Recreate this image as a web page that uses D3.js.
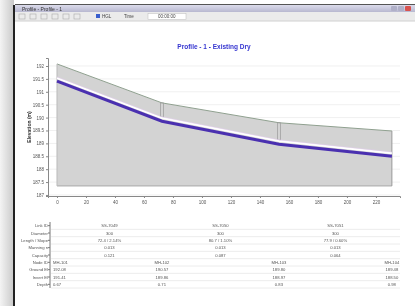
<!DOCTYPE html>
<html>
<head>
<meta charset="utf-8">
<script src="https://cdn.jsdelivr.net/npm/d3@7/dist/d3.min.js"></script>
<style>
  html, body { margin: 0; padding: 0; background: #fff; }
  svg { display: block; font-family: "Liberation Sans", Arial, sans-serif; filter: blur(0.35px); }
</style>
</head>
<body>
<svg width="416" height="306"></svg>
<script>
// profile data (stations in m, elevations in m)
var stations   = [0, 72.4, 153.1, 231.0];
var groundEl   = [192.08, 190.57, 189.80, 189.48];
var invertEl   = [191.41, 189.86, 188.97, 188.50];
var hglEl      = [191.53, 189.98, 189.09, 188.62];
var datumEl    = 187.35;

var nodeIds    = ["MH-101", "MH-102", "MH-103", "MH-104"];
var linkIds    = ["SS-7049", "SS-7050", "SS-7051"];
var linkDiam   = ["300", "300", "300"];
var linkSlope  = ["72.4 / 2.14%", "80.7 / 1.10%", "77.9 / 0.60%"];
var linkN      = ["0.013", "0.013", "0.013"];
var linkCap    = ["0.121", "0.087", "0.064"];

var rowLabels  = ["Link ID", "Diameter", "Length / Slope", "Manning n", "Capacity",
                  "Node ID", "Ground El", "Invert El", "Depth"];

var xTicks = d3.range(0, 221, 20);
var yTicks = d3.range(187, 192.01, 0.5);

var svg = d3.select("svg");

// ---- window chrome ----
var defs = svg.append("defs");
var sh = defs.append("linearGradient").attr("id", "shadow");
sh.append("stop").attr("offset", "0%").attr("stop-color", "#f4f4f4");
sh.append("stop").attr("offset", "100%").attr("stop-color", "#c9c9c9");
var tb = defs.append("linearGradient").attr("id", "titlebar").attr("x2", 0).attr("y2", 1);
tb.append("stop").attr("offset", "0%").attr("stop-color", "#dcdcec");
tb.append("stop").attr("offset", "100%").attr("stop-color", "#b8b8d0");

svg.append("rect").attr("x", 0).attr("y", 0).attr("width", 14).attr("height", 306).attr("fill", "url(#shadow)");
svg.append("rect").attr("x", 13).attr("y", 5).attr("width", 2).attr("height", 301).attr("fill", "#222");
svg.append("rect").attr("x", 15).attr("y", 4).attr("width", 400).attr("height", 1).attr("fill", "#555");
svg.append("rect").attr("x", 15).attr("y", 5).attr("width", 400).attr("height", 7).attr("fill", "url(#titlebar)");
svg.append("text").attr("x", 22).attr("y", 10.5).attr("font-size", 5).attr("fill", "#333").text("Profile - Profile - 1");
// title bar buttons
[["#b0b0c8", 391], ["#b0b0c8", 398], ["#d9534f", 405]].forEach(function (b) {
  svg.append("rect").attr("x", b[1]).attr("y", 6).attr("width", 6).attr("height", 5).attr("rx", 1).attr("fill", b[0]);
});
svg.append("rect").attr("x", 15).attr("y", 12).attr("width", 400).attr("height", 9).attr("fill", "#ebebeb");
svg.append("line").attr("x1", 15).attr("x2", 415).attr("y1", 21).attr("y2", 21).attr("stroke", "#d0d0d0");
// toolbar buttons
d3.range(6).forEach(function (i) {
  svg.append("rect").attr("x", 19 + i * 11).attr("y", 14).attr("width", 6).attr("height", 5)
    .attr("fill", "none").attr("stroke", "#aaa").attr("stroke-width", 0.6);
});
svg.append("rect").attr("x", 96).attr("y", 14).attr("width", 4).attr("height", 4).attr("fill", "#3a5fcd");
svg.append("text").attr("x", 102).attr("y", 18).attr("font-size", 4.5).attr("fill", "#444").text("HGL");
svg.append("text").attr("x", 124).attr("y", 18).attr("font-size", 4.5).attr("fill", "#444").text("Time");
svg.append("rect").attr("x", 148).attr("y", 13.5).attr("width", 38).attr("height", 6).attr("fill", "#fff").attr("stroke", "#bbb").attr("stroke-width", 0.5);
svg.append("text").attr("x", 158).attr("y", 18).attr("font-size", 4.5).attr("fill", "#444").text("00:00:00");

// ---- chart ----
var x = d3.scaleLinear().domain([-6.2, 236.6]).range([48, 400]);
var y = d3.scaleLinear().domain([186.96, 192.31]).range([196, 58]);

svg.append("text").attr("x", 214).attr("y", 49).attr("text-anchor", "middle")
  .attr("font-size", 6.5).attr("font-weight", "bold").attr("fill", "#3535d0")
  .text("Profile - 1 - Existing Dry");

// faint grid
svg.append("g").selectAll("line").data(yTicks).enter().append("line")
  .attr("x1", 48).attr("x2", 400)
  .attr("y1", function (d) { return y(d); }).attr("y2", function (d) { return y(d); })
  .attr("stroke", "#f0f0f0");

var pts = stations.map(function (s, i) { return { s: s, g: groundEl[i], inv: invertEl[i], h: hglEl[i] }; });

// ground-to-datum area
svg.append("path").datum(pts)
  .attr("d", d3.area().x(function (d) { return x(d.s); }).y0(y(datumEl)).y1(function (d) { return y(d.g); }))
  .attr("fill", "#d3d3d3");
svg.append("path").datum(pts)
  .attr("d", d3.line().x(function (d) { return x(d.s); }).y(function (d) { return y(d.g); }))
  .attr("fill", "none").attr("stroke", "#8fa08f").attr("stroke-width", 1);
svg.append("line").attr("x1", x(stations[0])).attr("x2", x(stations[3]))
  .attr("y1", y(datumEl)).attr("y2", y(datumEl)).attr("stroke", "#a8a8a8");
svg.append("line").attr("x1", x(stations[3])).attr("x2", x(stations[3]))
  .attr("y1", y(groundEl[3])).attr("y2", y(datumEl)).attr("stroke", "#999");
svg.append("line").attr("x1", x(stations[0])).attr("x2", x(stations[0]))
  .attr("y1", y(groundEl[0])).attr("y2", y(datumEl)).attr("stroke", "#bbb");

// manholes
svg.append("g").selectAll("rect").data(pts.slice(1, 3)).enter().append("rect")
  .attr("x", function (d) { return x(d.s) - 1.5; })
  .attr("y", function (d) { return y(d.g); })
  .attr("width", 3)
  .attr("height", function (d) { return y(d.inv) - y(d.g) - 4; })
  .attr("fill", "none").attr("stroke", "#9a9a9a").attr("stroke-width", 0.7);

// HGL and pipe
svg.append("path").datum(pts)
  .attr("d", d3.line().x(function (d) { return x(d.s); }).y(function (d) { return y(d.h); }))
  .attr("fill", "none").attr("stroke", "#ffffff").attr("stroke-width", 2);
svg.append("path").datum(pts)
  .attr("d", d3.line().x(function (d) { return x(d.s); }).y(function (d) { return y(d.h); }))
  .attr("fill", "none").attr("stroke", "#e2c8f0").attr("stroke-width", 0.5).attr("transform", "translate(0,-1.2)");
svg.append("path").datum(pts)
  .attr("d", d3.line().x(function (d) { return x(d.s); }).y(function (d) { return y(d.inv); }))
  .attr("fill", "none").attr("stroke", "#4a30b0").attr("stroke-width", 3);

// axes
var xAxis = svg.append("g").attr("transform", "translate(0,196)")
  .call(d3.axisBottom(x).tickValues(xTicks).tickSize(2).tickPadding(3));
var yAxis = svg.append("g").attr("transform", "translate(48,0)")
  .call(d3.axisLeft(y).tickValues(yTicks).tickSize(2).tickPadding(2)
    .tickFormat(function (d) { return d % 1 === 0 ? d3.format("d")(d) : d3.format(".1f")(d); }));
[xAxis, yAxis].forEach(function (a) {
  a.select(".domain").attr("stroke", "#888");
  a.selectAll(".tick line").attr("stroke", "#888");
  a.selectAll(".tick text").attr("font-size", 4.5).attr("fill", "#555").attr("font-family", "Liberation Sans, Arial, sans-serif");
});
svg.append("text").attr("transform", "translate(31,127) rotate(-90)").attr("text-anchor", "middle")
  .attr("font-size", 5).attr("font-weight", "bold").attr("fill", "#333").text("Elevation (m)");

// ---- data table ----
var rowY = d3.scaleBand().domain(rowLabels).range([222, 288]);
var table = svg.append("g");
table.append("line").attr("x1", 50).attr("x2", 50).attr("y1", 222).attr("y2", 288).attr("stroke", "#777");
table.selectAll(".rl").data(rowLabels).enter().append("text")
  .attr("x", 48).attr("y", function (d) { return rowY(d) + rowY.bandwidth() / 2 + 1.6; })
  .attr("text-anchor", "end").attr("font-size", 4.2).attr("fill", "#555").text(function (d) { return d; });
table.selectAll(".rt").data(rowLabels).enter().append("line")
  .attr("x1", 48).attr("x2", 50)
  .attr("y1", function (d) { return rowY(d) + rowY.bandwidth() / 2; })
  .attr("y2", function (d) { return rowY(d) + rowY.bandwidth() / 2; })
  .attr("stroke", "#777");
table.selectAll(".rg").data(rowLabels).enter().append("line")
  .attr("x1", 51).attr("x2", 400)
  .attr("y1", function (d) { return rowY(d) + rowY.bandwidth(); })
  .attr("y2", function (d) { return rowY(d) + rowY.bandwidth(); })
  .attr("stroke", "#ececec");

var linkRows = [linkIds, linkDiam, linkSlope, linkN, linkCap];
var nodeRows = [nodeIds,
  groundEl.map(function (v) { return v.toFixed(2); }),
  invertEl.map(function (v) { return v.toFixed(2); }),
  groundEl.map(function (v, i) { return (v - invertEl[i]).toFixed(2); })];

linkRows.forEach(function (vals, r) {
  table.selectAll(".lv" + r).data(vals).enter().append("text")
    .attr("x", function (d, i) { return x((stations[i] + stations[i + 1]) / 2); })
    .attr("y", rowY(rowLabels[r]) + rowY.bandwidth() / 2 + 1.6)
    .attr("text-anchor", "middle").attr("font-size", 4.2).attr("fill", "#555").text(function (d) { return d; });
});
nodeRows.forEach(function (vals, r) {
  table.selectAll(".nv" + r).data(vals).enter().append("text")
    .attr("x", function (d, i) { return i === 0 ? x(stations[0]) - 4 : x(stations[i]); })
    .attr("y", rowY(rowLabels[r + 5]) + rowY.bandwidth() / 2 + 1.6)
    .attr("text-anchor", function (d, i) { return i === 0 ? "start" : "middle"; })
    .attr("font-size", 4.2).attr("fill", "#555").text(function (d) { return d; });
});
</script>
</body>
</html>
